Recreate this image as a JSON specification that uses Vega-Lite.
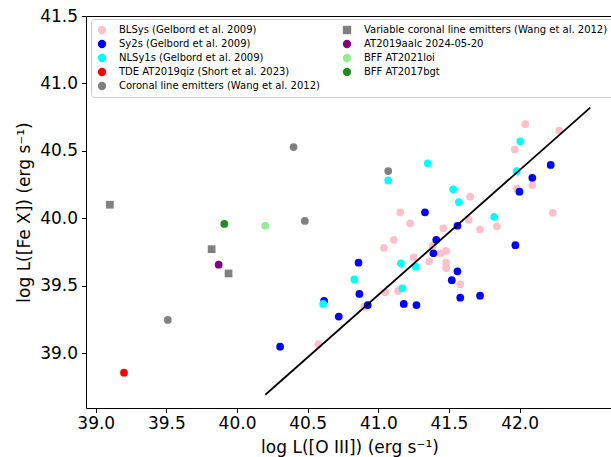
{
  "$schema": "https://vega.github.io/schema/vega-lite/v6.json",
  "width": 527,
  "height": 392,
  "autosize": {"type": "none"},
  "padding": {"left": 86, "top": 16, "right": 0, "bottom": 49},
  "config": {
    "view": {"stroke": "#000000", "strokeWidth": 1},
    "font": "DejaVu Sans",
    "axis": {
      "grid": false,
      "domain": false,
      "tickColor": "#000000",
      "tickWidth": 1,
      "tickSize": 4.5,
      "labelFontSize": 17,
      "labelColor": "#000000",
      "labelFont": "DejaVu Sans",
      "titleFont": "DejaVu Sans",
      "titleFontSize": 17,
      "titleFontWeight": "normal",
      "titleColor": "#000000"
    }
  },
  "datasets": {
    "points": [
      {"o3": 41.155, "fe10": 40.044, "source": "BLSys (Gelbord et al. 2009)"},
      {"o3": 41.225, "fe10": 39.962, "source": "BLSys (Gelbord et al. 2009)"},
      {"o3": 41.46, "fe10": 39.925, "source": "BLSys (Gelbord et al. 2009)"},
      {"o3": 41.11, "fe10": 39.84, "source": "BLSys (Gelbord et al. 2009)"},
      {"o3": 41.04, "fe10": 39.78, "source": "BLSys (Gelbord et al. 2009)"},
      {"o3": 41.385, "fe10": 39.796, "source": "BLSys (Gelbord et al. 2009)"},
      {"o3": 41.44, "fe10": 39.74, "source": "BLSys (Gelbord et al. 2009)"},
      {"o3": 41.48, "fe10": 39.757, "source": "BLSys (Gelbord et al. 2009)"},
      {"o3": 41.25, "fe10": 39.71, "source": "BLSys (Gelbord et al. 2009)"},
      {"o3": 41.36, "fe10": 39.68, "source": "BLSys (Gelbord et al. 2009)"},
      {"o3": 41.48, "fe10": 39.67, "source": "BLSys (Gelbord et al. 2009)"},
      {"o3": 41.48, "fe10": 39.63, "source": "BLSys (Gelbord et al. 2009)"},
      {"o3": 42.04, "fe10": 40.697, "source": "BLSys (Gelbord et al. 2009)"},
      {"o3": 42.28, "fe10": 40.65, "source": "BLSys (Gelbord et al. 2009)"},
      {"o3": 41.966, "fe10": 40.51, "source": "BLSys (Gelbord et al. 2009)"},
      {"o3": 41.98, "fe10": 40.22, "source": "BLSys (Gelbord et al. 2009)"},
      {"o3": 42.09, "fe10": 40.246, "source": "BLSys (Gelbord et al. 2009)"},
      {"o3": 41.65, "fe10": 40.16, "source": "BLSys (Gelbord et al. 2009)"},
      {"o3": 42.235, "fe10": 40.04, "source": "BLSys (Gelbord et al. 2009)"},
      {"o3": 41.64, "fe10": 39.987, "source": "BLSys (Gelbord et al. 2009)"},
      {"o3": 41.84, "fe10": 39.94, "source": "BLSys (Gelbord et al. 2009)"},
      {"o3": 41.72, "fe10": 39.918, "source": "BLSys (Gelbord et al. 2009)"},
      {"o3": 41.58, "fe10": 39.51, "source": "BLSys (Gelbord et al. 2009)"},
      {"o3": 41.05, "fe10": 39.45, "source": "BLSys (Gelbord et al. 2009)"},
      {"o3": 41.14, "fe10": 39.46, "source": "BLSys (Gelbord et al. 2009)"},
      {"o3": 40.9, "fe10": 39.343, "source": "BLSys (Gelbord et al. 2009)"},
      {"o3": 40.576, "fe10": 39.065, "source": "BLSys (Gelbord et al. 2009)"},
      {"o3": 41.33, "fe10": 40.044, "source": "Sy2s (Gelbord et al. 2009)"},
      {"o3": 41.41, "fe10": 39.84, "source": "Sy2s (Gelbord et al. 2009)"},
      {"o3": 41.39, "fe10": 39.74, "source": "Sy2s (Gelbord et al. 2009)"},
      {"o3": 40.86, "fe10": 39.67, "source": "Sy2s (Gelbord et al. 2009)"},
      {"o3": 42.22, "fe10": 40.395, "source": "Sy2s (Gelbord et al. 2009)"},
      {"o3": 42.09, "fe10": 40.3, "source": "Sy2s (Gelbord et al. 2009)"},
      {"o3": 41.999, "fe10": 40.197, "source": "Sy2s (Gelbord et al. 2009)"},
      {"o3": 41.56, "fe10": 39.944, "source": "Sy2s (Gelbord et al. 2009)"},
      {"o3": 41.97, "fe10": 39.8, "source": "Sy2s (Gelbord et al. 2009)"},
      {"o3": 41.56, "fe10": 39.606, "source": "Sy2s (Gelbord et al. 2009)"},
      {"o3": 41.52, "fe10": 39.54, "source": "Sy2s (Gelbord et al. 2009)"},
      {"o3": 41.58, "fe10": 39.41, "source": "Sy2s (Gelbord et al. 2009)"},
      {"o3": 41.72, "fe10": 39.425, "source": "Sy2s (Gelbord et al. 2009)"},
      {"o3": 40.866, "fe10": 39.438, "source": "Sy2s (Gelbord et al. 2009)"},
      {"o3": 40.616, "fe10": 39.386, "source": "Sy2s (Gelbord et al. 2009)"},
      {"o3": 40.925, "fe10": 39.356, "source": "Sy2s (Gelbord et al. 2009)"},
      {"o3": 41.18, "fe10": 39.364, "source": "Sy2s (Gelbord et al. 2009)"},
      {"o3": 41.27, "fe10": 39.356, "source": "Sy2s (Gelbord et al. 2009)"},
      {"o3": 40.72, "fe10": 39.27, "source": "Sy2s (Gelbord et al. 2009)"},
      {"o3": 40.305, "fe10": 39.047, "source": "Sy2s (Gelbord et al. 2009)"},
      {"o3": 41.35, "fe10": 40.407, "source": "NLSy1s (Gelbord et al. 2009)"},
      {"o3": 41.07, "fe10": 40.28, "source": "NLSy1s (Gelbord et al. 2009)"},
      {"o3": 41.53, "fe10": 40.214, "source": "NLSy1s (Gelbord et al. 2009)"},
      {"o3": 41.16, "fe10": 39.665, "source": "NLSy1s (Gelbord et al. 2009)"},
      {"o3": 41.265, "fe10": 39.64, "source": "NLSy1s (Gelbord et al. 2009)"},
      {"o3": 42.005, "fe10": 40.57, "source": "NLSy1s (Gelbord et al. 2009)"},
      {"o3": 41.98, "fe10": 40.35, "source": "NLSy1s (Gelbord et al. 2009)"},
      {"o3": 41.57, "fe10": 40.12, "source": "NLSy1s (Gelbord et al. 2009)"},
      {"o3": 41.82, "fe10": 40.01, "source": "NLSy1s (Gelbord et al. 2009)"},
      {"o3": 40.83, "fe10": 39.547, "source": "NLSy1s (Gelbord et al. 2009)"},
      {"o3": 41.17, "fe10": 39.48, "source": "NLSy1s (Gelbord et al. 2009)"},
      {"o3": 40.61, "fe10": 39.364, "source": "NLSy1s (Gelbord et al. 2009)"},
      {"o3": 39.2, "fe10": 38.854, "source": "TDE AT2019qiz (Short et al. 2023)"},
      {"o3": 40.4, "fe10": 40.528, "source": "Coronal line emitters (Wang et al. 2012)"},
      {"o3": 41.07, "fe10": 40.35, "source": "Coronal line emitters (Wang et al. 2012)"},
      {"o3": 40.48, "fe10": 39.98, "source": "Coronal line emitters (Wang et al. 2012)"},
      {"o3": 39.51, "fe10": 39.245, "source": "Coronal line emitters (Wang et al. 2012)"},
      {"o3": 39.1, "fe10": 40.1, "source": "Variable coronal line emitters (Wang et al. 2012)"},
      {"o3": 39.82, "fe10": 39.77, "source": "Variable coronal line emitters (Wang et al. 2012)"},
      {"o3": 39.94, "fe10": 39.59, "source": "Variable coronal line emitters (Wang et al. 2012)"},
      {"o3": 39.87, "fe10": 39.655, "source": "AT2019aalc 2024-05-20"},
      {"o3": 40.2, "fe10": 39.944, "source": "BFF AT2021loi"},
      {"o3": 39.91, "fe10": 39.957, "source": "BFF AT2017bgt"}
    ],
    "fit": [
      {"o3": 40.2, "fe10": 38.69},
      {"o3": 42.5, "fe10": 40.82}
    ]
  },
  "layer": [
    {
      "data": {"name": "points"},
      "mark": {"type": "point", "filled": true, "opacity": 1, "size": 60, "strokeWidth": 0},
      "encoding": {
        "x": {
          "field": "o3", "type": "quantitative",
          "scale": {"domain": [38.931, 42.661], "nice": false, "zero": false},
          "axis": {
            "title": "log L([O III]) (erg s⁻¹)",
            "values": [39.0, 39.5, 40.0, 40.5, 41.0, 41.5, 42.0],
            "format": ".1f",
            "labelPadding": 3,
            "titlePadding": 8
          }
        },
        "y": {
          "field": "fe10", "type": "quantitative",
          "scale": {"domain": [38.592, 41.5], "nice": false, "zero": false},
          "axis": {
            "title": "log L([Fe X]) (erg s⁻¹)",
            "values": [39.0, 39.5, 40.0, 40.5, 41.0, 41.5],
            "format": ".1f",
            "labelPadding": 4,
            "titlePadding": 6
          }
        },
        "color": {
          "field": "source", "type": "nominal",
          "scale": {
            "domain": [
              "BLSys (Gelbord et al. 2009)",
              "Sy2s (Gelbord et al. 2009)",
              "NLSy1s (Gelbord et al. 2009)",
              "TDE AT2019qiz (Short et al. 2023)",
              "Coronal line emitters (Wang et al. 2012)",
              "Variable coronal line emitters (Wang et al. 2012)",
              "AT2019aalc 2024-05-20",
              "BFF AT2021loi",
              "BFF AT2017bgt"
            ],
            "range": ["#ffc0cb", "#0000ff", "#00ffff", "#ff0000", "#808080", "#808080", "#800080", "#90ee90", "#228b22"]
          },
          "legend": {
            "title": null,
            "orient": "none",
            "legendX": 5,
            "legendY": 3,
            "columns": 2,
            "columnPadding": 22,
            "rowPadding": 4,
            "padding": 6,
            "labelFontSize": 10,
            "labelFont": "DejaVu Sans",
            "labelColor": "#000000",
            "labelLimit": 400,
            "labelOffset": 12,
            "symbolSize": 70,
            "symbolStrokeWidth": 0,
            "fillColor": "#ffffff",
            "strokeColor": "#cccccc",
            "cornerRadius": 3
          }
        },
        "shape": {
          "field": "source", "type": "nominal",
          "scale": {
            "domain": [
              "BLSys (Gelbord et al. 2009)",
              "Sy2s (Gelbord et al. 2009)",
              "NLSy1s (Gelbord et al. 2009)",
              "TDE AT2019qiz (Short et al. 2023)",
              "Coronal line emitters (Wang et al. 2012)",
              "Variable coronal line emitters (Wang et al. 2012)",
              "AT2019aalc 2024-05-20",
              "BFF AT2021loi",
              "BFF AT2017bgt"
            ],
            "range": ["circle", "circle", "circle", "circle", "circle", "square", "circle", "circle", "circle"]
          },
          "legend": {
            "title": null,
            "orient": "none",
            "legendX": 5,
            "legendY": 3,
            "columns": 2,
            "columnPadding": 22,
            "rowPadding": 4,
            "padding": 6,
            "labelFontSize": 10,
            "labelFont": "DejaVu Sans",
            "labelColor": "#000000",
            "labelLimit": 400,
            "labelOffset": 12,
            "symbolSize": 70,
            "symbolStrokeWidth": 0,
            "fillColor": "#ffffff",
            "strokeColor": "#cccccc",
            "cornerRadius": 3
          }
        }
      }
    },
    {
      "data": {"name": "fit"},
      "mark": {"type": "line", "color": "#000000", "strokeWidth": 1.8},
      "encoding": {
        "x": {"field": "o3", "type": "quantitative"},
        "y": {"field": "fe10", "type": "quantitative"}
      }
    }
  ]
}
